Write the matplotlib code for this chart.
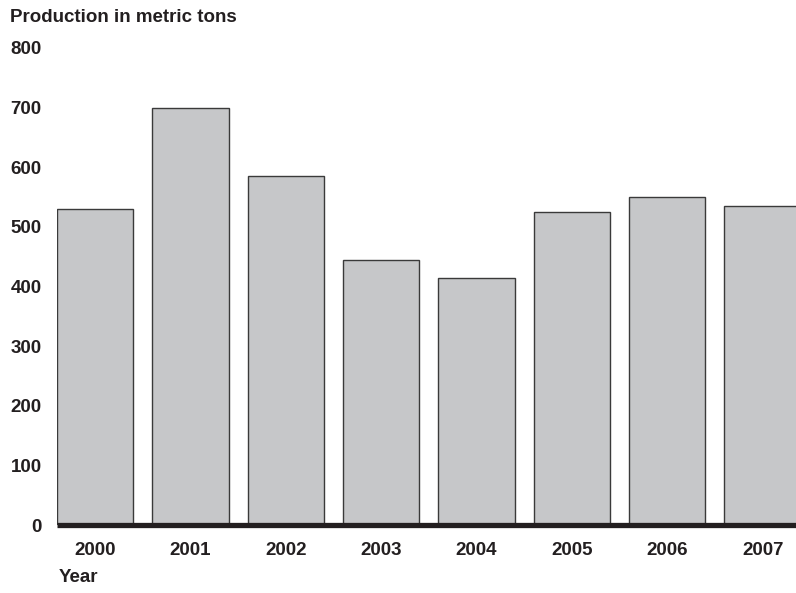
import matplotlib.pyplot as plt

years = ['2000', '2001', '2002', '2003', '2004', '2005', '2006', '2007']
production = [530, 700, 585, 445, 415, 525, 550, 535]
yticks = [0, 100, 200, 300, 400, 500, 600, 700, 800]

plt.rcParams['font.family'] = ['Liberation Sans', 'DejaVu Sans']
plt.rcParams['font.weight'] = 'bold'
txt = '#231f20'

fig = plt.figure(figsize=(7.96, 5.93), dpi=100)
ax = fig.add_axes([57/796, (593-525)/593, 1 - 57/796, (525-48)/593])

x = range(len(years))
ax.bar(x, production, width=0.8, color='#c6c7c9', edgecolor='#3a3a3a', linewidth=1.0)
ax.axhline(0, color='#231f20', lw=3.8, clip_on=False, zorder=5, solid_capstyle='butt')

ax.set_xlim(-0.4, 7.35)
ax.set_ylim(0, 800)
ax.set_xticks(list(x))
ax.set_xticklabels(years)
ax.set_yticks(yticks)
for s in ax.spines.values():
    s.set_visible(False)
ax.tick_params(length=0, labelsize=13.5, colors=txt)
ax.tick_params(axis='x', pad=12)
ax.tick_params(axis='y', pad=11)

fig.text(10/796, 1 - 18/593, 'Production in metric tons', fontsize=13.5,
         fontweight='bold', color=txt, va='center', ha='left')
fig.text(59/796, 1 - 578/593, 'Year', fontsize=13.5,
         fontweight='bold', color=txt, va='center', ha='left')

fig.savefig('out.png', dpi=100)
